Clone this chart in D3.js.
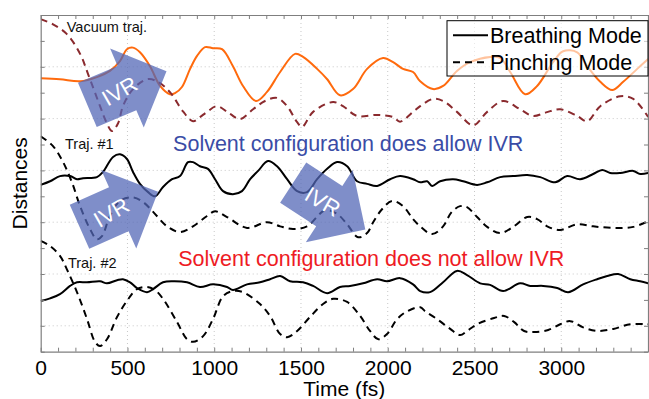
<!DOCTYPE html>
<html>
<head>
<meta charset="utf-8">
<script src="https://cdn.jsdelivr.net/npm/d3@7"></script>
<style>
  html, body { margin: 0; padding: 0; background: #ffffff; }
  svg { display: block; font-family: "Liberation Sans", Arial, Helvetica, sans-serif; }
</style>
</head>
<body>
<div id="chart-container"></div>
<script>
// [time (fs), distance (arb. units)]
const vacuumBreathing = [
  [0,4.78],[111,4.76],[227,4.72],[324,4.80],[399,4.92],[457,5.11],[497,5.34],[532,5.37],
  [572,5.28],[630,5.01],[688,4.63],[745,4.47],[774,4.49],[814,4.61],[861,4.96],[901,5.21],
  [947,5.38],[993,5.36],[1045,5.34],[1108,5.01],[1166,4.63],[1241,4.34],[1303,4.51],[1380,4.90],
  [1466,5.25],[1512,5.19],[1593,4.96],[1651,4.76],[1725,4.45],[1800,4.57],[1881,4.96],[1973,5.17],
  [2031,5.09],[2088,4.96],[2146,4.90],[2187,4.72],[2261,4.57],[2319,4.63],[2399,4.92],[2475,5.09],
  [2590,5.19],[2648,5.17],[2706,4.90],[2792,4.47],[2861,4.63],[2953,5.09],[3011,5.30],[3092,5.28],
  [3150,5.01],[3225,4.71],[3294,4.55],[3357,4.71],[3438,4.96],[3501,5.15]
];
const vacuumPinching = [
  [0,5.92],[71,5.82],[151,5.63],[227,5.25],[273,4.86],[342,4.24],[376,3.95],[411,3.76],
  [446,3.91],[474,4.24],[532,4.57],[613,4.76],[670,4.72],[745,4.51],[820,4.14],[878,3.95],
  [918,4.03],[959,4.13],[1016,4.24],[1091,4.09],[1149,3.99],[1224,4.18],[1293,4.34],[1362,4.40],
  [1420,4.24],[1478,3.93],[1506,3.84],[1570,4.13],[1685,4.32],[1742,4.24],[1823,4.05],[1937,4.07],
  [2031,4.03],[2071,3.94],[2146,4.13],[2187,4.24],[2261,4.38],[2319,4.34],[2399,4.13],[2492,3.87],
  [2573,4.13],[2665,4.34],[2763,4.18],[2838,4.05],[2913,4.12],[2994,4.18],[3092,4.05],[3150,3.95],
  [3225,4.24],[3340,4.43],[3415,4.38],[3501,4.03]
];
const traj1Breathing = [
  [0,2.72],[54,2.79],[111,2.89],[169,2.89],[209,2.83],[244,2.85],[324,2.87],[359,2.97],
  [417,3.26],[457,3.31],[497,3.22],[532,2.97],[572,2.74],[619,2.58],[659,2.50],[705,2.68],
  [757,2.83],[803,2.89],[849,3.16],[878,3.16],[918,3.08],[964,3.03],[1005,2.83],[1051,2.60],
  [1108,2.54],[1160,2.60],[1207,2.83],[1253,2.99],[1310,3.18],[1362,3.08],[1420,2.83],[1478,2.60],
  [1535,2.58],[1593,2.83],[1651,3.03],[1708,3.16],[1766,3.08],[1823,2.79],[1881,2.74],[1939,2.70],
  [2014,2.83],[2071,2.89],[2146,2.83],[2187,2.77],[2227,2.79],[2256,2.70],[2302,2.79],[2377,2.83],
  [2435,2.79],[2515,2.72],[2573,2.77],[2648,2.87],[2723,2.89],[2804,2.91],[2879,2.87],[2965,2.77],
  [3034,2.89],[3109,2.83],[3184,2.93],[3236,3.01],[3282,2.95],[3340,2.95],[3415,2.99],[3455,2.93],
  [3501,2.95]
];
const traj1Pinching = [
  [0,3.66],[71,3.47],[129,3.16],[180,2.77],[227,2.31],[284,1.87],[324,1.67],[353,1.73],
  [399,2.12],[457,2.41],[532,2.48],[590,2.39],[648,2.20],[728,1.92],[803,1.81],[878,1.92],
  [959,2.12],[1005,2.21],[1074,2.10],[1189,1.89],[1304,2.00],[1380,1.92],[1454,1.87],[1535,1.92],
  [1639,2.23],[1708,2.16],[1766,1.96],[1829,1.71],[1881,1.79],[1916,2.00],[1967,2.25],[2025,2.41],
  [2088,2.31],[2146,2.06],[2187,1.92],[2256,1.77],[2319,1.92],[2367,2.19],[2417,2.31],[2457,2.29],
  [2515,2.10],[2573,1.91],[2648,1.79],[2723,1.91],[2804,2.10],[2861,2.06],[2919,1.92],[2994,1.85],
  [3092,1.96],[3184,1.92],[3300,1.89],[3415,1.91],[3501,2.02]
];
const traj2Breathing = [
  [0,0.48],[54,0.53],[111,0.61],[169,0.77],[209,0.84],[267,0.84],[342,0.86],[382,0.82],
  [440,0.88],[474,0.90],[515,0.84],[555,0.73],[613,0.65],[648,0.71],[705,0.84],[763,0.86],
  [843,0.84],[918,0.75],[993,0.80],[1074,0.75],[1108,0.69],[1189,0.80],[1264,0.84],[1322,0.90],
  [1380,0.96],[1437,0.86],[1512,0.84],[1570,0.77],[1651,0.63],[1725,0.75],[1783,0.77],[1858,0.82],
  [1939,0.90],[1996,0.86],[2071,0.92],[2146,0.80],[2187,0.67],[2244,0.65],[2319,0.84],[2399,1.06],
  [2457,0.98],[2533,0.82],[2590,0.79],[2665,0.67],[2763,0.82],[2821,0.77],[2896,0.77],[2977,0.73],
  [3040,0.65],[3126,0.80],[3207,0.90],[3265,0.96],[3328,1.00],[3398,0.90],[3455,0.86],[3501,0.82]
];
const traj2Pinching = [
  [0,1.64],[54,1.54],[111,1.35],[151,1.09],[209,0.65],[267,0.13],[313,-0.31],[342,-0.39],
  [382,-0.26],[440,0.17],[497,0.48],[555,0.71],[613,0.75],[659,0.69],[705,0.52],[786,0.07],
  [843,-0.26],[878,-0.31],[936,-0.20],[993,0.13],[1051,0.57],[1108,0.67],[1166,0.65],[1264,0.42],
  [1322,0.19],[1380,-0.16],[1420,-0.22],[1478,-0.10],[1552,0.17],[1627,0.42],[1685,0.52],[1766,0.46],
  [1841,0.19],[1898,-0.10],[1946,-0.26],[1996,-0.16],[2054,0.13],[2112,0.28],[2187,0.36],[2216,0.28],
  [2284,0.13],[2360,-0.06],[2417,-0.18],[2457,-0.10],[2515,0.03],[2613,0.15],[2671,0.19],[2729,0.07],
  [2786,-0.10],[2844,-0.12],[2925,-0.08],[2994,0.03],[3052,0.09],[3126,-0.03],[3207,-0.10],[3300,-0.06],
  [3398,0.03],[3501,0.03]
];

const xTickLabels = [0, 500, 1000, 1500, 2000, 2500, 3000];
const legendLabels = ["Breathing Mode", "Pinching Mode"];
// IVR arrows: centre (time, distance) and direction
const ivrArrows = [
  { t: 497, v: 4.59, angle: -23, textAngle: -30 },
  { t: 450, v: 2.25, angle: -24, textAngle: -30 },
  { t: 1663, v: 2.31, angle: 33, textAngle: 30 }
];
// text notes: anchor (time, distance) of the baseline start
const notes = [
  { t: 150, v: 5.67, text: "Vacuum traj.", size: 14.5, color: "#111" },
  { t: 140, v: 3.41, text: "Traj. #1", size: 14.5, color: "#111" },
  { t: 157, v: 1.11, text: "Traj. #2", size: 14.5, color: "#111" },
  { t: 763, v: 3.37, text: "Solvent configuration does allow IVR", size: 21.5, color: "#3a4ca6" },
  { t: 793, v: 1.15, text: "Solvent configuration does not allow IVR", size: 21.5, color: "#ee1b24" }
];

const width = 649, height = 399;
const plot = { left: 40.7, right: 648, top: 15, bottom: 351.7 };
const axisColor = "#7f7f7f";

const x = d3.scaleLinear().domain([0, 3500]).range([plot.left, plot.right]);
const y = d3.scaleLinear().domain([-0.5, 6]).range([plot.bottom, plot.top]);

const svg = d3.select("#chart-container").append("svg")
  .attr("width", width).attr("height", height);

svg.append("defs").append("clipPath").attr("id", "plot-clip")
  .append("rect")
  .attr("x", plot.left).attr("y", plot.top)
  .attr("width", plot.right - plot.left).attr("height", plot.bottom - plot.top);

// dotted grid
const grid = svg.append("g");
grid.selectAll(".vg").data(xTickLabels.filter(d => d > 0)).join("line")
  .attr("x1", d => x(d)).attr("x2", d => x(d))
  .attr("y1", plot.top).attr("y2", plot.bottom)
  .attr("stroke", "#c8c8c8").attr("stroke-width", 1).attr("stroke-dasharray", "1,3");
grid.selectAll(".hg").data(d3.range(0, 6)).join("line")
  .attr("x1", plot.left).attr("x2", plot.right)
  .attr("y1", d => y(d)).attr("y2", d => y(d))
  .attr("stroke", "#c8c8c8").attr("stroke-width", 1).attr("stroke-dasharray", "1,3");

// curves
const line = d3.line()
  .x(d => x(d[0]))
  .y(d => y(d[1]))
  .curve(d3.curveCatmullRom.alpha(0.5));

const series = [
  { data: vacuumBreathing, color: "#ff6a0d", dash: null },
  { data: vacuumPinching, color: "#8a2a2e", dash: "7,5" },
  { data: traj1Breathing, color: "#000", dash: null },
  { data: traj1Pinching, color: "#000", dash: "7,5" },
  { data: traj2Breathing, color: "#000", dash: null },
  { data: traj2Pinching, color: "#000", dash: "7,5" }
];

const curves = svg.append("g").attr("clip-path", "url(#plot-clip)");
series.forEach(s => {
  curves.append("path")
    .datum(s.data)
    .attr("fill", "none")
    .attr("stroke", s.color)
    .attr("stroke-width", 2)
    .attr("stroke-dasharray", s.dash)
    .attr("d", line);
});

// IVR arrows
const L = 86, shaftHalf = 24, headHalf = 43, headLen = 43;
const arrowPts = [
  [-L / 2, -shaftHalf], [L / 2 - headLen, -shaftHalf], [L / 2 - headLen, -headHalf],
  [L / 2, 0], [L / 2 - headLen, headHalf], [L / 2 - headLen, shaftHalf], [-L / 2, shaftHalf]
];
const arrows = svg.append("g");
ivrArrows.forEach(a => {
  const g = arrows.append("g")
    .attr("transform", `translate(${x(a.t)},${y(a.v)})`);
  g.append("polygon")
    .attr("points", arrowPts.map(p => p.join(",")).join(" "))
    .attr("transform", `rotate(${a.angle})`)
    .attr("fill", "rgb(82,102,182)")
    .attr("fill-opacity", 0.74);
  g.append("text")
    .attr("transform", `rotate(${a.angle}) translate(-8,0) rotate(${a.textAngle - a.angle})`)
    .attr("text-anchor", "middle")
    .attr("dominant-baseline", "central")
    .attr("fill", "#fff")
    .attr("font-size", 22)
    .text("IVR");
});

// notes
svg.append("g").selectAll("text").data(notes).join("text")
  .attr("x", d => x(d.t)).attr("y", d => y(d.v))
  .attr("font-size", d => d.size)
  .attr("fill", d => d.color)
  .text(d => d.text);

// axes (ticks inward, mirrored)
const xMinor = d3.range(0, 3501, 100);
const yMinor = d3.range(-0.5, 6.01, 0.5);

const xAxis = svg.append("g")
  .attr("transform", `translate(0,${plot.bottom})`)
  .call(d3.axisBottom(x).tickValues(xMinor).tickSizeInner(-4).tickSizeOuter(0).tickPadding(8)
    .tickFormat(d => xTickLabels.includes(d) ? d : ""));
const xTop = svg.append("g")
  .attr("transform", `translate(0,${plot.top})`)
  .call(d3.axisTop(x).tickValues(xMinor).tickSizeInner(-4).tickSizeOuter(0).tickFormat(""));
const yAxis = svg.append("g")
  .attr("transform", `translate(${plot.left},0)`)
  .call(d3.axisLeft(y).tickValues(yMinor).tickSizeInner(-4).tickSizeOuter(0).tickFormat(""));
const yRight = svg.append("g")
  .attr("transform", `translate(${plot.right},0)`)
  .call(d3.axisRight(y).tickValues(yMinor).tickSizeInner(-4).tickSizeOuter(0).tickFormat(""));

[xAxis, xTop, yAxis, yRight].forEach(ax => {
  ax.select(".domain").attr("stroke", axisColor).attr("stroke-width", 1.2);
  ax.selectAll(".tick line").attr("stroke", axisColor).attr("stroke-width", 1);
});
xAxis.selectAll("text")
  .attr("fill", "#000")
  .style("font-size", "21px")
  .style("font-family", "'Liberation Sans', Arial, Helvetica, sans-serif");

svg.append("text")
  .attr("x", (plot.left + plot.right) / 2)
  .attr("y", 396)
  .attr("text-anchor", "middle")
  .attr("font-size", 21)
  .text("Time (fs)");

svg.append("text")
  .attr("transform", `translate(27,${(plot.top + plot.bottom) / 2}) rotate(-90)`)
  .attr("text-anchor", "middle")
  .attr("font-size", 21)
  .text("Distances");

// legend
const legend = svg.append("g").attr("transform", "translate(447,20.7)");
legend.append("rect")
  .attr("width", 201).attr("height", 55.3)
  .attr("fill", "#fff").attr("fill-opacity", 0.6)
  .attr("stroke", "#000").attr("stroke-width", 1);
legendLabels.forEach((label, i) => {
  const row = legend.append("g").attr("transform", `translate(0,${14.5 + i * 27})`);
  row.append("line")
    .attr("x1", 6).attr("x2", 41)
    .attr("stroke", "#000").attr("stroke-width", 2)
    .attr("stroke-dasharray", i === 0 ? null : "7,5");
  row.append("text")
    .attr("x", 43).attr("y", 7.5)
    .attr("font-size", 21.5)
    .text(label);
});
</script>
</body>
</html>
